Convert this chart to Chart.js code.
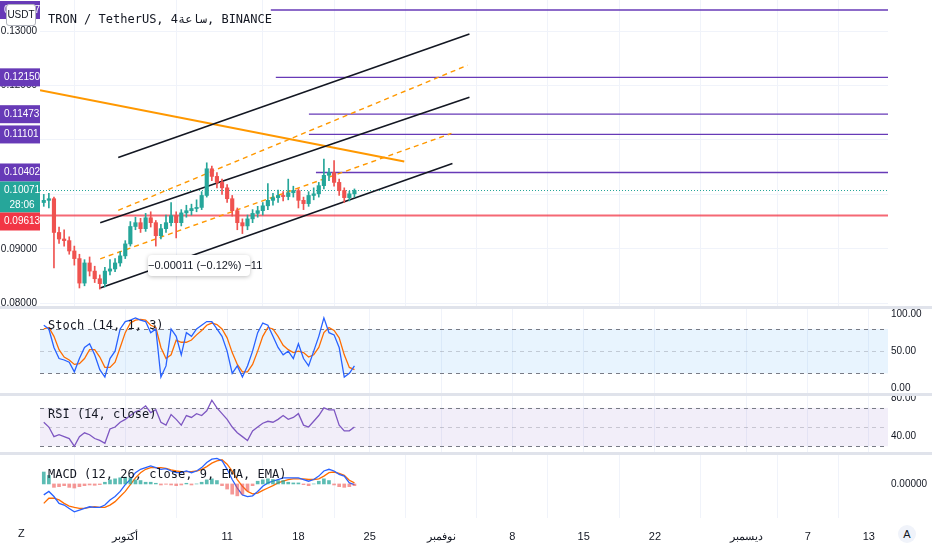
<!DOCTYPE html>
<html>
<head>
<meta charset="utf-8">
<script src="https://cdn.jsdelivr.net/npm/chart.js@4.4.1/dist/chart.umd.min.js"></script>
<style>
  body { margin: 0; background: #fff; width: 932px; height: 550px; overflow: hidden; position: relative; font-family: "Liberation Mono", monospace; }
  .pane { position: absolute; left: 0; width: 932px; }
  .sep { position: absolute; left: 0; width: 932px; height: 3px; background: #e0e3eb; }
  .lbl { position: absolute; left: 48px; font-size: 12px; color: #131722; font-family: "DejaVu Sans Mono", monospace; }
  .note { position: absolute; left: 148px; top: 255px; width: 102px; height: 21px; background: #fff; border-radius: 4px; box-shadow: 0 1px 4px rgba(0,0,0,0.25); font: 11px "Liberation Sans", sans-serif; color: #131722; text-align: center; line-height: 21px; white-space: nowrap; }
</style>
</head>
<body>
<div class="pane" style="top:0;height:306px"><canvas id="main" width="932" height="306"></canvas></div>
<div class="pane" style="top:309px;height:85px"><canvas id="stoch" width="932" height="85"></canvas></div>
<div class="pane" style="top:396px;height:57px"><canvas id="rsi" width="932" height="57"></canvas></div>
<div class="pane" style="top:455px;height:95px"><canvas id="macd" width="932" height="95"></canvas></div>
<div class="sep" style="top:306px"></div>
<div class="sep" style="top:393px"></div>
<div class="sep" style="top:452px"></div>
<div class="lbl" style="top:12px">TRON / TetherUS, 4ساعة, BINANCE</div>
<div class="lbl" style="top:318px">Stoch (14, 1, 3)</div>
<div class="lbl" style="top:407px">RSI (14, close)</div>
<div class="lbl" style="top:467px">MACD (12, 26, close, 9, EMA, EMA)</div>
<div class="note">−0.00011 (−0.12%) −11</div>
<div style="position:absolute;left:6px;top:4px;width:28px;height:20px;background:#fff;border:1px solid #b2b5be;border-radius:3px;font:10px 'Liberation Sans',sans-serif;line-height:20px;text-align:center;color:#131722;z-index:2">USDT</div>
<div style="position:absolute;left:18px;top:527px;font:11px 'Liberation Sans',sans-serif;color:#131722">Z</div>
<div style="position:absolute;left:898px;top:525px;width:18px;height:18px;border-radius:9px;background:#f0f3fa;font:11px 'Liberation Sans',sans-serif;line-height:18px;text-align:center;color:#131722">A</div>
<script>
// 12h candles, starting Sep 23 (day 0 = Oct 1)
const closes = [0.0989,0.0992,0.0930,0.0918,0.0915,0.0896,0.0882,0.0837,0.0874,0.0859,0.0845,0.0836,0.0859,0.0863,0.0874,0.0887,0.0909,0.0941,0.0948,0.0937,0.0957,0.0948,0.0924,0.0937,0.0948,0.0961,0.0948,0.0966,0.0970,0.0974,0.0976,0.0998,0.1047,0.1033,0.1022,0.1012,0.0992,0.0970,0.0948,0.0942,0.0955,0.0965,0.0970,0.0979,0.0989,0.0994,0.0998,0.0996,0.1003,0.1007,0.0989,0.0983,0.0998,0.1001,0.1016,0.1035,0.1040,0.1022,0.1007,0.0994,0.1001,0.1007];
const firstOpen = 0.0985;
const highs = [0.1000,0.1002,0.0995,0.0940,0.0935,0.0922,0.0905,0.0890,0.0880,0.0885,0.0868,0.0852,0.0866,0.0880,0.0882,0.0895,0.0915,0.0950,0.0958,0.0956,0.0965,0.0968,0.0952,0.0945,0.0962,0.0985,0.0968,0.0972,0.0980,0.0982,0.0990,0.1005,0.1058,0.1052,0.1040,0.1028,0.1018,0.0998,0.0975,0.0955,0.0962,0.0972,0.0978,0.0985,0.1020,0.1002,0.1008,0.1005,0.1028,0.1015,0.1010,0.0995,0.1005,0.1012,0.1022,0.1065,0.1048,0.1062,0.1028,0.1012,0.1006,0.1010];
const lows = [0.0978,0.0975,0.0865,0.0910,0.0905,0.0890,0.0870,0.0828,0.0832,0.0850,0.0838,0.0826,0.0830,0.0852,0.0858,0.0868,0.0882,0.0905,0.0935,0.0930,0.0932,0.0940,0.0905,0.0918,0.0930,0.0942,0.0920,0.0942,0.0958,0.0962,0.0968,0.0972,0.0995,0.1025,0.1012,0.1000,0.0985,0.0960,0.0935,0.0928,0.0935,0.0948,0.0958,0.0962,0.0972,0.0980,0.0985,0.0988,0.0990,0.0995,0.0975,0.0972,0.0978,0.0990,0.0995,0.1010,0.1025,0.1015,0.0998,0.0985,0.0988,0.0995];

const stochK = [85,80,55,40,38,35,22,40,55,60,45,25,15,40,50,80,90,92,95,92,90,75,80,15,30,80,70,45,75,70,80,85,90,90,80,70,50,20,30,15,30,50,75,88,85,70,55,45,50,40,60,40,30,50,70,95,75,72,55,15,20,30];
const stochD = [80,82,70,52,42,38,32,33,40,52,52,42,28,28,35,55,75,88,92,93,92,85,82,55,40,45,65,62,62,65,72,78,85,88,86,80,68,48,32,22,22,32,50,70,82,80,70,58,52,48,50,48,42,45,55,75,82,78,68,45,28,25];
const rsi = [55,50,40,42,40,38,30,40,44,42,38,36,33,48,50,55,58,62,66,68,72,65,68,55,52,63,58,52,62,60,64,62,67,78,70,64,58,50,44,40,36,46,50,54,56,55,58,62,58,60,64,52,50,56,62,70,68,68,52,46,46,50];
const macdLine = [-0.032,-0.022,-0.037,-0.057,-0.062,-0.072,-0.082,-0.077,-0.072,-0.067,-0.069,-0.069,-0.062,-0.047,-0.037,-0.022,-0.002,0.013,0.033,0.043,0.048,0.053,0.048,0.043,0.045,0.038,0.033,0.033,0.038,0.033,0.038,0.048,0.063,0.073,0.075,0.068,0.043,0.013,-0.012,-0.032,-0.037,-0.035,-0.022,-0.007,0.003,0.008,0.013,0.018,0.018,0.018,0.018,0.013,0.008,0.013,0.023,0.038,0.043,0.038,0.028,0.023,0.003,-0.002];
const signalLine = [-0.057,-0.042,-0.042,-0.047,-0.057,-0.065,-0.069,-0.072,-0.072,-0.069,-0.067,-0.069,-0.069,-0.062,-0.052,-0.037,-0.022,-0.002,0.018,0.033,0.043,0.048,0.048,0.048,0.046,0.041,0.038,0.036,0.036,0.036,0.038,0.043,0.051,0.061,0.068,0.071,0.058,0.038,0.013,-0.007,-0.022,-0.029,-0.027,-0.019,-0.012,-0.005,0.003,0.008,0.013,0.015,0.015,0.015,0.013,0.013,0.015,0.023,0.033,0.035,0.031,0.025,0.011,0.003];
const histo = [0.035,0.025,-0.010,-0.008,-0.005,-0.010,-0.012,-0.008,-0.005,-0.003,-0.004,-0.002,0.005,0.012,0.015,0.018,0.020,0.018,0.012,0.010,0.005,0.005,0.002,-0.003,-0.001,-0.003,-0.005,-0.003,0.002,-0.003,0.000,0.005,0.012,0.015,0.010,-0.005,-0.015,-0.030,-0.035,-0.030,-0.020,-0.005,0.008,0.012,0.015,0.013,0.010,0.010,0.005,0.003,0.003,-0.002,-0.005,0.000,0.008,0.015,0.010,-0.003,-0.008,-0.010,-0.008,-0.005];

// date axis: day offsets from Oct 1
const tickDays = [0, 10, 17, 24, 31, 38, 45, 52, 61, 67, 73];
const tickLabels = ['أكتوبر', '11', '18', '25', 'نوفمبر', '8', '15', '22', 'ديسمبر', '7', '13'];

// drawings: [day, price] pairs
const channelLines = [
  [[-0.69, 0.10677], [33.79, 0.12945]],
  [[-2.46, 0.09479], [33.79, 0.11783]],
  [[-2.46, 0.08281], [32.12, 0.10567]]
];
const dashedLines = [
  [[-0.69, 0.09706], [33.6, 0.12373]],
  [[-2.46, 0.08816], [32.02, 0.11120]]
];
const trendLine = [[-8.37, 0.11912], [27.39, 0.10604]];
const levels = [0.13387, 0.12150, 0.11473, 0.11101, 0.10402];
const levelStarts = [14.29, 14.78, 18.03, 18.03, 18.72];
const lastPrice = 0.10071;
const redLevel = 0.09613;

const X_MIN = -8.37, X_MAX = 74.88;
const times = closes.map((_, i) => -8 + i * 0.5);
const opens = closes.map((c, i) => i === 0 ? firstOpen : closes[i - 1]);
const upCol = '#26a69a', dnCol = '#ef5350';
const candleCol = closes.map((c, i) => c >= opens[i] ? upCol : dnCol);

function xScale(showTicks) {
  return {
    type: 'linear', axis: 'x', min: X_MIN, max: X_MAX, offset: false,
    afterBuildTicks: s => { s.ticks = tickDays.map(v => ({ value: v })); },
    afterFit: s => { s.height = showTicks ? 32 : 0; s.paddingLeft = 0; s.paddingRight = 0; },
    grid: { color: '#f0f3fa', drawTicks: false },
    border: { display: false },
    ticks: {
      display: showTicks, padding: 12, maxRotation: 0, autoSkip: false,
      color: '#131722', font: { family: 'Liberation Sans', size: 11 },
      callback: v => tickLabels[tickDays.indexOf(v)]
    }
  };
}
function sideAxis(pos, min, max, vals, fmt) {
  return {
    type: 'linear', axis: 'y', position: pos, min: min, max: max,
    afterFit: s => { s.width = pos === 'left' ? 40 : 44; s.paddingTop = 0; s.paddingBottom = 0; },
    afterBuildTicks: s => { s.ticks = vals.map(v => ({ value: v })); },
    grid: { display: pos === 'left', color: '#f0f3fa', drawTicks: false },
    border: { display: false },
    ticks: { display: vals.length > 0, padding: 3, color: '#131722', font: { family: 'Liberation Sans', size: 10 }, callback: fmt }
  };
}
const line = (pts, color, width, dash) => ({
  type: 'line', data: pts.map(p => ({ x: p[0], y: p[1] })), borderColor: color,
  borderWidth: width, borderDash: dash || [], pointRadius: 0, fill: false, yAxisID: 'y'
});

// price label boxes on the left axis
const boxPlugin = {
  id: 'boxes',
  afterDraw(chart) {
    const ctx = chart.ctx, y = chart.scales.y;
    ctx.save();
    ctx.font = '10px Liberation Sans';
    ctx.textBaseline = 'middle';
    ctx.textAlign = 'left';
    const box = (color, top, h, texts) => {
      ctx.fillStyle = color;
      ctx.fillRect(0, top, 40, h);
      ctx.fillStyle = '#fff';
      texts.forEach((t, i) => ctx.fillText(t, 4, top + 9 + i * 15));
    };
    levels.forEach(v => { const p = y.getPixelForValue(v); box('#673ab7', p - 9, 18, [v.toFixed(5)]); });
    const pt = y.getPixelForValue(lastPrice);
    box('#26a69a', pt - 9, 31, [lastPrice.toFixed(5), '  28:06']);
    box('#f23645', pt + 22, 18, [redLevel.toFixed(5)]);
    ctx.restore();
  }
};

const mainData = [
  { type: 'bar', data: times.map((t, i) => ({ x: t, y: [lows[i], highs[i]] })), backgroundColor: candleCol, barThickness: 1, grouped: false, yAxisID: 'y' },
  { type: 'bar', data: times.map((t, i) => ({ x: t, y: [opens[i], closes[i]] })), backgroundColor: candleCol, barThickness: 3.5, minBarLength: 1, grouped: false, yAxisID: 'y' }
];
channelLines.forEach(l => mainData.push(line(l, '#131722', 1.6)));
dashedLines.forEach(l => mainData.push(line(l, '#ff9800', 1.4, [5, 4])));
mainData.push(line(trendLine, '#ff9800', 2));
levels.forEach((v, i) => mainData.push(line([[levelStarts[i], v], [X_MAX, v]], '#673ab7', 1.3)));
mainData.push(line([[X_MIN, lastPrice], [X_MAX, lastPrice]], '#26a69a', 1, [1, 2]));
mainData.push(line([[X_MIN, redLevel], [X_MAX, redLevel]], 'rgba(242,54,69,0.75)', 2));

new Chart(document.getElementById('main'), {
  type: 'bar',
  data: { datasets: mainData },
  options: {
    responsive: false, animation: false, devicePixelRatio: 1,
    layout: { padding: 0, autoPadding: false },
    plugins: { legend: { display: false }, tooltip: { enabled: false } },
    scales: {
      x: xScale(false),
      y: sideAxis('left', 0.07949, 0.13571, [0.08, 0.09, 0.10, 0.11, 0.12, 0.13], v => v.toFixed(5)),
      yRight: sideAxis('right', 0, 1, [])
    }
  },
  plugins: [boxPlugin]
});

// band background for oscillators
const bandPlugin = {
  id: 'band',
  beforeDatasetsDraw(chart, args, o) {
    const ctx = chart.ctx, y = chart.scales.y, a = chart.chartArea;
    const top = y.getPixelForValue(o.hi), bot = y.getPixelForValue(o.lo);
    ctx.save();
    ctx.fillStyle = o.color;
    ctx.fillRect(a.left, top, a.right - a.left, bot - top);
    ctx.strokeStyle = '#787b86';
    ctx.setLineDash([4, 4]);
    ctx.lineWidth = 1;
    [o.hi, o.lo].forEach(v => {
      const p = Math.round(y.getPixelForValue(v)) + 0.5;
      ctx.beginPath(); ctx.moveTo(a.left, p); ctx.lineTo(a.right, p); ctx.stroke();
    });
    if (o.mid !== undefined) {
      ctx.strokeStyle = 'rgba(120,123,134,0.35)';
      const p = Math.round(y.getPixelForValue(o.mid)) + 0.5;
      ctx.beginPath(); ctx.moveTo(a.left, p); ctx.lineTo(a.right, p); ctx.stroke();
    }
    ctx.restore();
  }
};
const sline = (vals, color) => ({
  type: 'line', data: times.map((t, i) => ({ x: t, y: vals[i] })), borderColor: color,
  borderWidth: 1.3, pointRadius: 0, fill: false, yAxisID: 'y'
});
function oscOptions(min, max, vals, fmt, band, xTicks) {
  return {
    responsive: false, animation: false, devicePixelRatio: 1,
    layout: { padding: 0, autoPadding: false },
    plugins: { legend: { display: false }, tooltip: { enabled: false }, band: band },
    scales: { x: xScale(xTicks), yLeft: sideAxis('left', min, max, []), y: sideAxis('right', min, max, vals, fmt) }
  };
}

new Chart(document.getElementById('stoch'), {
  type: 'line',
  data: { datasets: [sline(stochK, '#2962ff'), sline(stochD, '#ff6d00')] },
  options: oscOptions(-8, 107, [0, 50, 100], v => v.toFixed(2), { lo: 20, hi: 80, mid: 50, color: 'rgba(33,150,243,0.1)' }, false),
  plugins: [bandPlugin]
});

new Chart(document.getElementById('rsi'), {
  type: 'line',
  data: { datasets: [sline(rsi, '#7e57c2')] },
  options: oscOptions(22.9, 82.4, [40, 80], v => v.toFixed(2), { lo: 30, hi: 70, mid: 50, color: 'rgba(126,87,194,0.1)' }, false),
  plugins: [bandPlugin]
});

new Chart(document.getElementById('macd'), {
  type: 'bar',
  data: {
    datasets: [
      { type: 'bar', data: times.map((t, i) => ({ x: t, y: histo[i] })), backgroundColor: histo.map(v => v >= 0 ? 'rgba(38,166,154,0.75)' : 'rgba(239,83,80,0.6)'), barThickness: 3, yAxisID: 'y' },
      sline(macdLine, '#2962ff'),
      sline(signalLine, '#ff6d00')
    ]
  },
  options: oscOptions(-0.1, 0.085, [0], v => v.toFixed(5), undefined, true)
});
</script>
</body>
</html>
